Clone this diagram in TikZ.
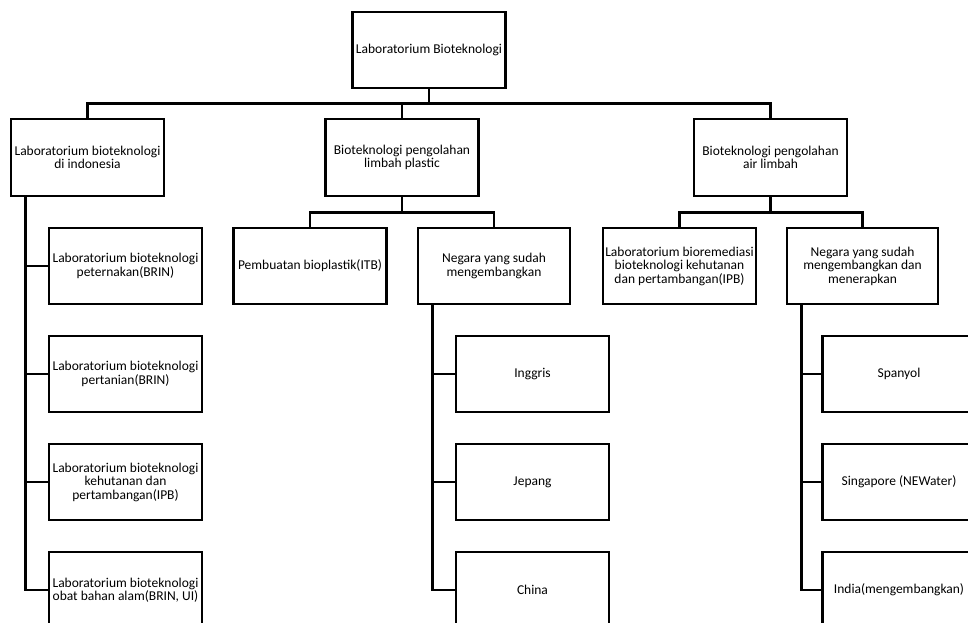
\documentclass[tikz,border=0pt]{standalone}
\usepackage{fontspec}
\setmainfont{Carlito}
\usepackage{tikz}
\usetikzlibrary{positioning}

\begin{document}
\begin{tikzpicture}[
        x=1pt, y=-1pt,
        box/.style={rectangle, draw=black, line width=2.6pt, fill=white, minimum width=153pt, minimum height=76pt, inner sep=1pt, align=center, font=\fontsize{13.5}{13.5}\selectfont},
        link/.style={line width=2.6pt}
    ]
    \useasboundingbox (0,0) rectangle (968,622);

    % Level 0: root
    \node[box] (root) at (429,50) {Laboratorium Bioteknologi};

    % Level 1: three branches
    \node[box, minimum height=77pt] (lab_id) at (87.5,157.5) {Laboratorium bioteknologi\\di indonesia};
    \node[box, minimum height=77pt] (plastic) at (402,157.5) {Bioteknologi pengolahan\\limbah plastic};
    \node[box, minimum height=77pt] (water) at (770.5,157.5) {Bioteknologi pengolahan\\air limbah};

    % Level 2: children of the plastic and water branches
    \node[box] (bioplastic) at (310,266) {Pembuatan bioplastik(ITB)};
    \node[box, minimum width=152pt] (country_p) at (494,266) {Negara yang sudah\\mengembangkan};
    \node[box] (bioremed) at (679.5,266) {Laboratorium bioremediasi\\bioteknologi kehutanan\\dan pertambangan(IPB)};
    \node[box, minimum width=151pt] (country_w) at (862.5,266) {Negara yang sudah\\mengembangkan dan\\menerapkan};

    % Left column: labs in Indonesia
    \node[box] (lab_farm) at (125.5,266) {Laboratorium bioteknologi\\peternakan(BRIN)};
    \node[box] (lab_agri) at (125.5,374) {Laboratorium bioteknologi\\pertanian(BRIN)};
    \node[box] (lab_forest) at (125.5,482) {Laboratorium bioteknologi\\kehutanan dan\\pertambangan(IPB)};
    \node[box] (lab_herbal) at (125.5,590) {Laboratorium bioteknologi\\obat bahan alam(BRIN, UI)};

    % Middle column: countries (plastic)
    \node[box] (uk) at (532.5,374) {Inggris};
    \node[box] (japan) at (532.5,482) {Jepang};
    \node[box] (china) at (532.5,590) {China};

    % Right column: countries (waste water)
    \node[box] (spain) at (899,374) {Spanyol};
    \node[box] (singapore) at (899,482) {Singapore (NEWater)};
    \node[box] (india) at (899,590) {India(mengembangkan)};

    % --- Edges ---
    % root to level 1
    \draw[link] (root.south) -- ++(0,14) -| (lab_id.north);
    \draw[link] (root.south) -- ++(0,14) -| (plastic.north);
    \draw[link] (root.south) -- ++(0,14) -| (water.north);

    % level 1 to level 2
    \draw[link] (plastic.south) -- ++(0,15) -| (bioplastic.north);
    \draw[link] (plastic.south) -- ++(0,15) -| (country_p.north);
    \draw[link] (water.south) -- ++(0,15) -| (bioremed.north);
    \draw[link] (water.south) -- ++(0,15) -| (country_w.north);

    % side spines
    \draw[link] ([xshift=16pt]lab_id.south west) |- (lab_farm.west);
    \draw[link] ([xshift=16pt]lab_id.south west) |- (lab_agri.west);
    \draw[link] ([xshift=16pt]lab_id.south west) |- (lab_forest.west);
    \draw[link] ([xshift=16pt]lab_id.south west) |- (lab_herbal.west);

    \draw[link] ([xshift=16pt]country_p.south west) |- (uk.west);
    \draw[link] ([xshift=16pt]country_p.south west) |- (japan.west);
    \draw[link] ([xshift=16pt]country_p.south west) |- (china.west);

    \draw[link] ([xshift=16pt]country_w.south west) |- (spain.west);
    \draw[link] ([xshift=16pt]country_w.south west) |- (singapore.west);
    \draw[link] ([xshift=16pt]country_w.south west) |- (india.west);

\end{tikzpicture}
\end{document}
